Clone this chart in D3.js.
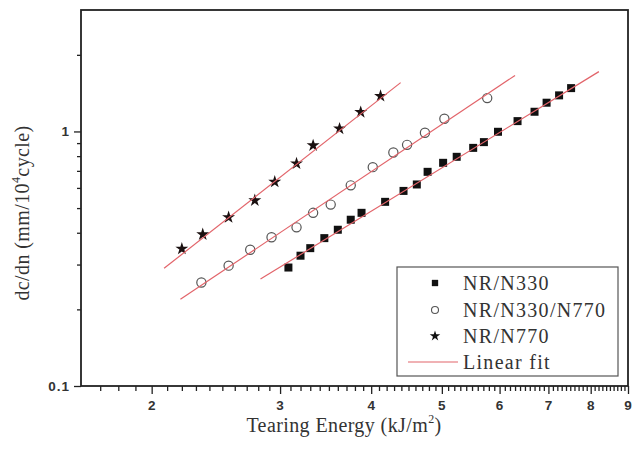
<!DOCTYPE html>
<html>
<head>
<meta charset="utf-8">
<script src="https://cdn.jsdelivr.net/npm/d3@7"></script>
<style>
  body { margin: 0; background: #fff; }
  svg { display: block; }
  .axis-title, .legend-text { font-family: "Liberation Serif", "Times New Roman", serif; fill: #333; }
</style>
</head>
<body>
<div id="chart"></div>
<script>
/**
 * CONSTANTS AND GLOBALS
 * */
const width = 632,
  height = 452,
  margin = { top: 10, bottom: 66, left: 81, right: 4 },
  lineColor = "#e2646a";

/* DATA */
// NR/N330 — filled squares
const n330Energy = [3.08, 3.20, 3.30, 3.45, 3.60, 3.75, 3.88, 4.18, 4.43, 4.62, 4.78, 5.02, 5.24, 5.52, 5.71, 5.97, 6.35, 6.70, 6.96, 7.24, 7.52];
const n330Rate   = [0.292, 0.325, 0.348, 0.381, 0.411, 0.450, 0.479, 0.529, 0.584, 0.619, 0.694, 0.753, 0.795, 0.862, 0.908, 0.997, 1.098, 1.195, 1.297, 1.386, 1.480];
// NR/N330/N770 — open circles
const mixEnergy = [2.34, 2.55, 2.73, 2.92, 3.16, 3.33, 3.52, 3.75, 4.02, 4.29, 4.48, 4.74, 5.04, 5.77];
const mixRate   = [0.255, 0.297, 0.343, 0.384, 0.420, 0.479, 0.516, 0.614, 0.724, 0.827, 0.886, 0.988, 1.122, 1.352];
// NR/N770 — stars
const n770Energy = [2.20, 2.35, 2.55, 2.77, 2.95, 3.16, 3.33, 3.62, 3.87, 4.12];
const n770Rate   = [0.346, 0.394, 0.460, 0.536, 0.634, 0.748, 0.881, 1.025, 1.190, 1.377];
// linear fits (log-log), start and end points
const n330Fit = [[2.82, 0.263], [8.21, 1.718]];
const mixFit  = [[2.19, 0.219], [6.30, 1.660]];
const n770Fit = [[2.08, 0.290], [4.39, 1.555]];

// tick values
const xMajor = [2, 3, 4, 5, 6, 7, 8, 9];
const xMinor = d3.range(17, 90).filter(v => v % 10 !== 0).map(v => v / 10);
const yMajor = [0.1, 1];
const yMinor = [0.2, 0.3, 0.4, 0.5, 0.6, 0.7, 0.8, 0.9, 2];

const legendLabels = ["NR/N330", "NR/N330/N770", "NR/N770", "Linear fit"];

let svg, xScale, yScale;

function zip(xs, ys) {
  return xs.map((x, i) => ({ x: x, y: ys[i] }));
}

// bold sans tick labels like the original
function styleLabels(g) {
  g.selectAll("text")
    .style("font-family", '"Liberation Sans", Arial, sans-serif')
    .style("font-weight", "bold")
    .style("font-size", "13.5px")
    .style("letter-spacing", "1px")
    .style("fill", "#333");
}

init();

function init() {
  // SCALES
  xScale = d3.scaleLog().domain([1.6, 9]).range([margin.left, width - margin.right]);
  yScale = d3.scaleLog().domain([0.1, 3]).range([height - margin.bottom, margin.top]);

  svg = d3.select("#chart").append("svg")
    .attr("width", width)
    .attr("height", height);

  const bottom = height - margin.bottom;

  // AXES - minor ticks first, then majors with labels
  svg.append("g")
    .attr("transform", `translate(0,${bottom})`)
    .call(d3.axisBottom(xScale).tickValues(xMinor).tickSize(5).tickFormat(""))
    .call(g => g.select(".domain").remove());
  svg.append("g")
    .attr("transform", `translate(0,${bottom})`)
    .call(d3.axisBottom(xScale).tickValues(xMajor).tickSize(8).tickPadding(6).tickFormat(d3.format("d")))
    .call(g => g.select(".domain").remove())
    .call(styleLabels);

  svg.append("g")
    .attr("transform", `translate(${margin.left},0)`)
    .call(d3.axisLeft(yScale).tickValues(yMinor).tickSize(4).tickFormat(""))
    .call(g => g.select(".domain").remove());
  svg.append("g")
    .attr("transform", `translate(${margin.left},0)`)
    .call(d3.axisLeft(yScale).tickValues(yMajor).tickSize(7).tickPadding(4).tickFormat(d => d === 1 ? "1" : "0.1"))
    .call(g => g.select(".domain").remove())
    .call(styleLabels);

  svg.selectAll(".tick line").attr("stroke", "#222").attr("stroke-width", 1.3);

  // MARKERS
  svg.append("g").selectAll("path")
    .data(zip(n330Energy, n330Rate))
    .join("path")
    .attr("transform", d => `translate(${xScale(d.x)},${yScale(d.y)})`)
    .attr("d", d3.symbol(d3.symbolSquare, 64))
    .attr("fill", "#111");

  svg.append("g").selectAll("circle")
    .data(zip(mixEnergy, mixRate))
    .join("circle")
    .attr("cx", d => xScale(d.x))
    .attr("cy", d => yScale(d.y))
    .attr("r", 4.6)
    .attr("fill", "#fff")
    .attr("stroke", "#555")
    .attr("stroke-width", 1.2);

  svg.append("g").selectAll("path")
    .data(zip(n770Energy, n770Rate))
    .join("path")
    .attr("transform", d => `translate(${xScale(d.x)},${yScale(d.y)})`)
    .attr("d", d3.symbol(d3.symbolStar, 52))
    .attr("fill", "#1a1010");

  // FIT LINES (drawn over the markers)
  const lineFunc = d3.line().x(d => xScale(d[0])).y(d => yScale(d[1]));
  svg.append("g").selectAll("path")
    .data([n330Fit, mixFit, n770Fit])
    .join("path")
    .attr("d", lineFunc)
    .attr("fill", "none")
    .attr("stroke", lineColor)
    .attr("stroke-width", 1.2);

  // FRAME
  svg.append("rect")
    .attr("x", margin.left)
    .attr("y", margin.top)
    .attr("width", width - margin.left - margin.right)
    .attr("height", bottom - margin.top)
    .attr("fill", "none")
    .attr("stroke", "#222")
    .attr("stroke-width", 1.8);

  // AXIS TITLES
  const xt = svg.append("text")
    .attr("class", "axis-title")
    .attr("x", 344)
    .attr("y", 432)
    .attr("text-anchor", "middle")
    .attr("font-size", 20)
    .attr("letter-spacing", 0.4);
  xt.append("tspan").text("Tearing Energy (kJ/m");
  xt.append("tspan").attr("font-size", 12).attr("dy", -9).text("2");
  xt.append("tspan").attr("dy", 9).text(")");

  const yt = svg.append("text")
    .attr("class", "axis-title")
    .attr("transform", "translate(29,213) rotate(-90)")
    .attr("text-anchor", "middle")
    .attr("font-size", 20)
    .attr("letter-spacing", 0.4);
  yt.append("tspan").text("dc/dn (mm/10");
  yt.append("tspan").attr("font-size", 12).attr("dy", -9).text("4");
  yt.append("tspan").attr("dy", 9).text("cycle)");

  // LEGEND
  const legend = svg.append("g");
  legend.append("rect")
    .attr("x", 397).attr("y", 267)
    .attr("width", 221).attr("height", 109)
    .attr("fill", "#fff")
    .attr("stroke", "#555")
    .attr("stroke-width", 1.2);

  const rowY = [283, 310, 336, 362];
  legend.append("path")
    .attr("transform", `translate(435,${rowY[0]})`)
    .attr("d", d3.symbol(d3.symbolSquare, 40))
    .attr("fill", "#111");
  legend.append("circle")
    .attr("cx", 435).attr("cy", rowY[1]).attr("r", 3.5)
    .attr("fill", "#fff").attr("stroke", "#555").attr("stroke-width", 1.1);
  legend.append("path")
    .attr("transform", `translate(435,${rowY[2]})`)
    .attr("d", d3.symbol(d3.symbolStar, 34))
    .attr("fill", "#111");
  legend.append("line")
    .attr("x1", 408).attr("x2", 458)
    .attr("y1", rowY[3]).attr("y2", rowY[3])
    .attr("stroke", lineColor).attr("stroke-width", 1.2);

  legend.selectAll("text.legend-text")
    .data(legendLabels)
    .join("text")
    .attr("class", "legend-text")
    .attr("x", 463)
    .attr("y", (d, i) => rowY[i] + 7)
    .attr("font-size", 20)
    .attr("letter-spacing", 1.3)
    .text(d => d);
}
</script>
</body>
</html>
